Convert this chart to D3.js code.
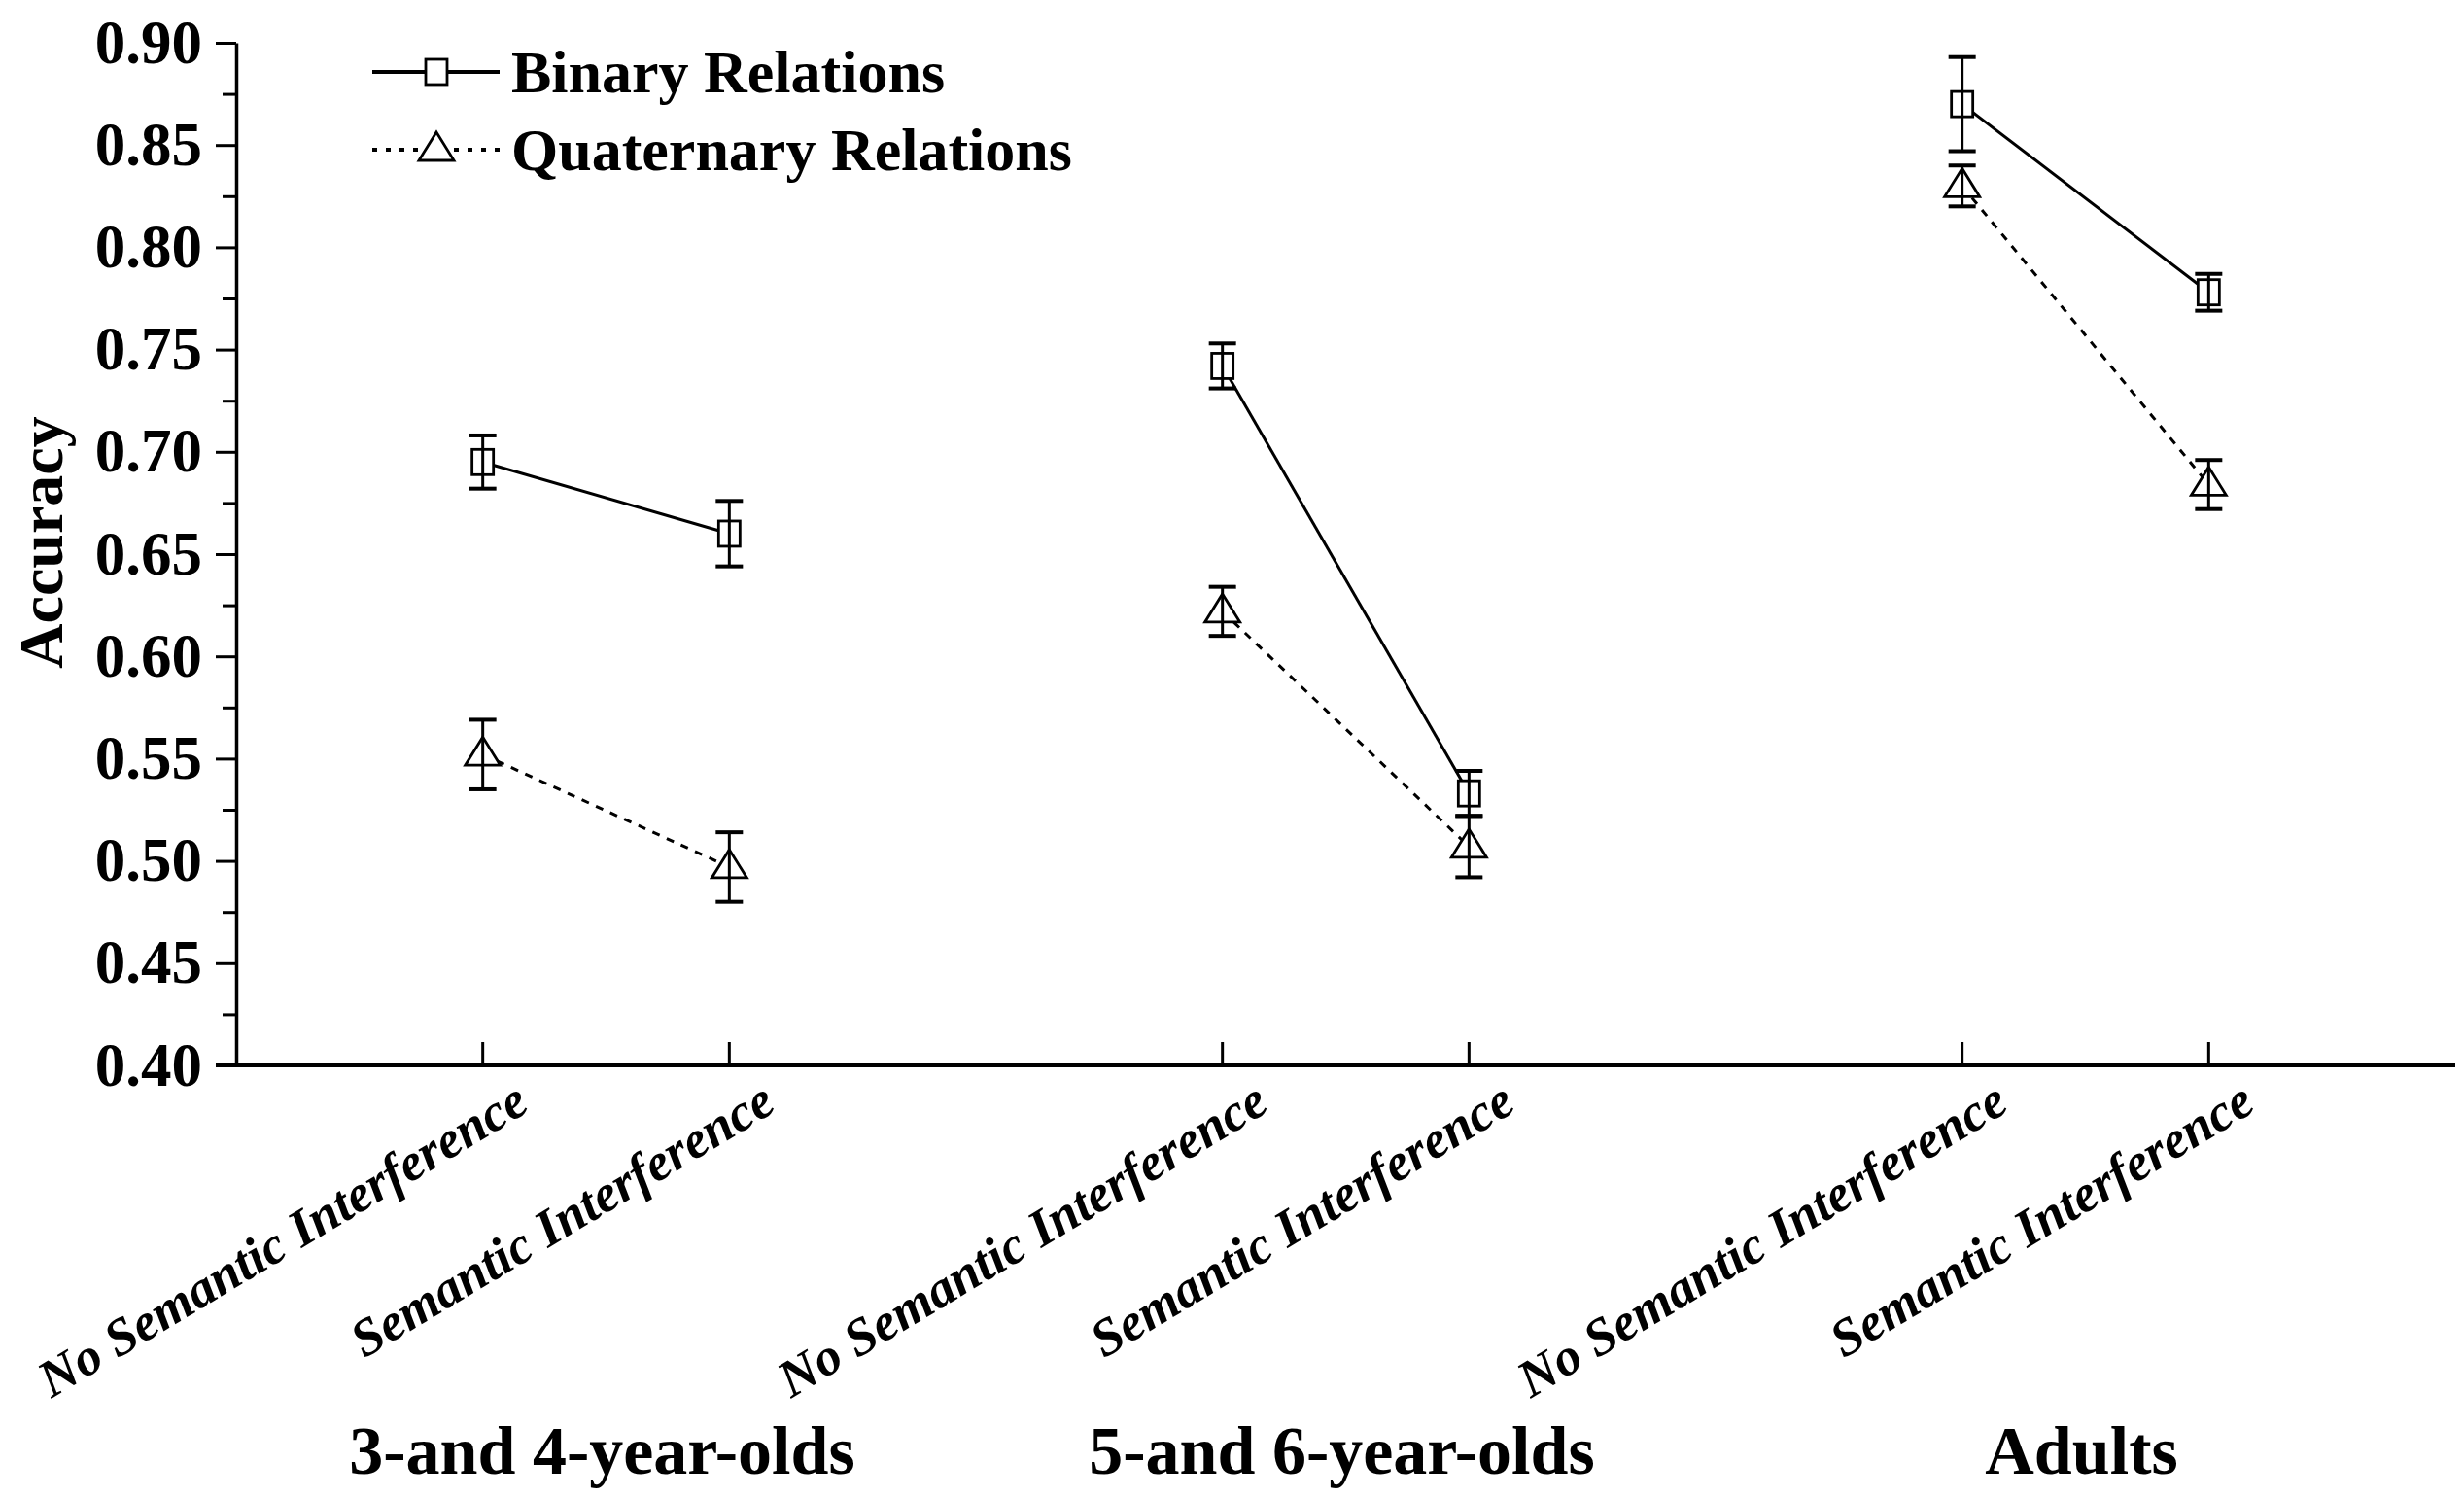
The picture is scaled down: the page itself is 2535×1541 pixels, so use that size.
<!DOCTYPE html>
<html>
<head>
<meta charset="utf-8">
<script src="https://cdn.jsdelivr.net/npm/d3@7"></script>
<style>
  html, body { margin: 0; padding: 0; background: #fff; }
  svg { display: block; }
  text { font-family: "Liberation Serif", "Times New Roman", serif; font-weight: bold; fill: #000; }
</style>
</head>
<body>
<div id="chart"></div>
<script>
(function () {

    var W = 2535, H = 1541;

    /* ── data ─────────────────────────────────────────────────────── */
    var GROUPS     = ["3-and 4-year-olds", "5-and 6-year-olds", "Adults"];
    var CONDITIONS = ["No Semantic Interference", "Semantic Interference"];

    // order: group 1 (no SI, SI), group 2 (no SI, SI), group 3 (no SI, SI)
    var BINARY_MEAN = [0.695, 0.660, 0.742, 0.533, 0.870, 0.778];
    var BINARY_ERR  = [0.013, 0.016, 0.011, 0.011, 0.023, 0.009];
    var QUAT_MEAN   = [0.552, 0.497, 0.622, 0.507, 0.830, 0.684];
    var QUAT_ERR    = [0.017, 0.017, 0.012, 0.015, 0.010, 0.012];

    var Y_TICKS       = [0.40, 0.45, 0.50, 0.55, 0.60, 0.65, 0.70, 0.75, 0.80, 0.85, 0.90];
    var Y_MINOR_TICKS = [0.425, 0.475, 0.525, 0.575, 0.625, 0.675, 0.725, 0.775, 0.825, 0.875];

    var SERIES = [
        { name: "Binary Relations",     mean: BINARY_MEAN, err: BINARY_ERR, shape: "square",   dash: null  },
        { name: "Quaternary Relations", mean: QUAT_MEAN,   err: QUAT_ERR,   shape: "triangle", dash: "8,8" }
    ];

    /* ── layout ───────────────────────────────────────────────────── */
    var left = 243, right = 2526, top = 44, bottom = 1096;

    var svg = d3.select("#chart").append("svg")
        .attr("width", W).attr("height", H);

    svg.append("rect").attr("width", W).attr("height", H).attr("fill", "#fff");

    var x0 = d3.scaleBand().domain(GROUPS).range([left, right]).paddingInner(0).paddingOuter(0);
    var x1 = d3.scalePoint().domain(CONDITIONS).range([0, x0.bandwidth()]).padding(1);
    var y  = d3.scaleLinear().domain([0.40, 0.90]).range([bottom, top]);

    // flat list of points, one per group/condition
    var cells = [];
    GROUPS.forEach(function (g, gi) {
        CONDITIONS.forEach(function (c, ci) {
            cells.push({ group: g, cond: c, idx: gi * CONDITIONS.length + ci, x: x0(g) + x1(c) });
        });
    });

    /* ── y axis ───────────────────────────────────────────────────── */
    var yAxis = svg.append("g")
        .attr("transform", "translate(" + left + ",0)")
        .call(d3.axisLeft(y).tickValues(Y_TICKS).tickSize(21).tickSizeOuter(0)
              .tickPadding(14).tickFormat(d3.format(".2f")));

    svg.append("g")
        .attr("transform", "translate(" + left + ",0)")
        .call(d3.axisLeft(y).tickValues(Y_MINOR_TICKS).tickSize(14).tickSizeOuter(0)
              .tickFormat(""))
        .select(".domain").remove();

    svg.selectAll(".tick line").attr("stroke", "#000").attr("stroke-width", 3);
    yAxis.select(".domain").attr("stroke", "#000").attr("stroke-width", 3.5);
    yAxis.selectAll(".tick text")
        .style("font-family", "'Liberation Serif', serif")
        .style("font-weight", "bold")
        .style("font-size", "63px")
        .attr("fill", "#000");

    svg.append("text")
        .attr("transform", "translate(64," + ((top + bottom) / 2 - 12) + ") rotate(-90)")
        .attr("text-anchor", "middle")
        .style("font-size", "64px")
        .text("Accuracy");

    /* ── x axis ───────────────────────────────────────────────────── */
    svg.append("line")
        .attr("x1", left - 21).attr("x2", right)
        .attr("y1", bottom).attr("y2", bottom)
        .attr("stroke", "#000").attr("stroke-width", 4);

    svg.selectAll(".x-tick").data(cells).enter().append("line")
        .attr("class", "x-tick")
        .attr("x1", function (d) { return d.x; }).attr("x2", function (d) { return d.x; })
        .attr("y1", bottom).attr("y2", bottom - 24)
        .attr("stroke", "#000").attr("stroke-width", 3);

    svg.selectAll(".x-label").data(cells).enter().append("text")
        .attr("class", "x-label")
        .attr("text-anchor", "end")
        .attr("transform", function (d) {
            return "translate(" + (d.x + 50) + "," + (bottom + 46) + ") rotate(-31)";
        })
        .style("font-size", "54px")
        .style("font-style", "italic")
        .text(function (d) { return d.cond; });

    svg.selectAll(".group-label").data(GROUPS).enter().append("text")
        .attr("class", "group-label")
        .attr("x", function (g) { return x0(g) + x0.bandwidth() / 2 - 4; })
        .attr("y", 1516)
        .attr("text-anchor", "middle")
        .style("font-size", "70px")
        .text(function (g) { return g; });

    /* ── marker helper ────────────────────────────────────────────── */
    function drawMarker(sel, shape) {
        if (shape === "square") {
            sel.append("rect")
                .attr("x", -11).attr("y", -13)
                .attr("width", 22).attr("height", 26)
                .attr("fill", "#fff").attr("stroke", "#000").attr("stroke-width", 2.8);
        } else {
            sel.append("path")
                .attr("d", "M0,-18L18,11L-18,11Z")
                .attr("fill", "#fff").attr("stroke", "#000").attr("stroke-width", 2.8);
        }
    }

    /* ── series ───────────────────────────────────────────────────── */
    var line = d3.line()
        .x(function (d) { return d.x; })
        .y(function (d) { return d.y; });

    SERIES.forEach(function (s) {
        var pts = cells.map(function (c) {
            return { x: c.x, y: y(s.mean[c.idx]), group: c.group, m: s.mean[c.idx], e: s.err[c.idx] };
        });

        // connecting lines, within each age group only
        GROUPS.forEach(function (g) {
            svg.append("path")
                .datum(pts.filter(function (p) { return p.group === g; }))
                .attr("d", line)
                .attr("fill", "none")
                .attr("stroke", "#000")
                .attr("stroke-width", 3)
                .attr("stroke-dasharray", s.dash);
        });

        // markers
        svg.selectAll(null).data(pts).enter().append("g")
            .attr("transform", function (p) { return "translate(" + p.x + "," + p.y + ")"; })
            .each(function () { drawMarker(d3.select(this), s.shape); });

        // error bars on top
        var eb = svg.selectAll(null).data(pts).enter().append("g")
            .attr("stroke", "#000").attr("stroke-width", 3);
        eb.append("line")
            .attr("x1", function (p) { return p.x; }).attr("x2", function (p) { return p.x; })
            .attr("y1", function (p) { return y(p.m + p.e); })
            .attr("y2", function (p) { return y(p.m - p.e); });
        eb.append("line")
            .attr("x1", function (p) { return p.x - 14; }).attr("x2", function (p) { return p.x + 14; })
            .attr("y1", function (p) { return y(p.m + p.e); })
            .attr("y2", function (p) { return y(p.m + p.e); })
            .attr("stroke-width", 4);
        eb.append("line")
            .attr("x1", function (p) { return p.x - 14; }).attr("x2", function (p) { return p.x + 14; })
            .attr("y1", function (p) { return y(p.m - p.e); })
            .attr("y2", function (p) { return y(p.m - p.e); })
            .attr("stroke-width", 4);
    });

    /* ── legend ───────────────────────────────────────────────────── */
    var legend = svg.append("g").attr("transform", "translate(383,74)");

    SERIES.forEach(function (s, i) {
        var g = legend.append("g").attr("transform", "translate(0," + (i * 80) + ")");
        g.append("line")
            .attr("x1", 0).attr("x2", 131)
            .attr("stroke", "#000").attr("stroke-width", 4)
            .attr("stroke-dasharray", s.dash ? "5,9" : null);
        var m = g.append("g").attr("transform", "translate(66,0)");
        drawMarker(m, s.shape);
        g.append("text")
            .attr("x", 143).attr("y", 21)
            .style("font-size", "62px")
            .text(s.name);
    });

}());
</script>
</body>
</html>
